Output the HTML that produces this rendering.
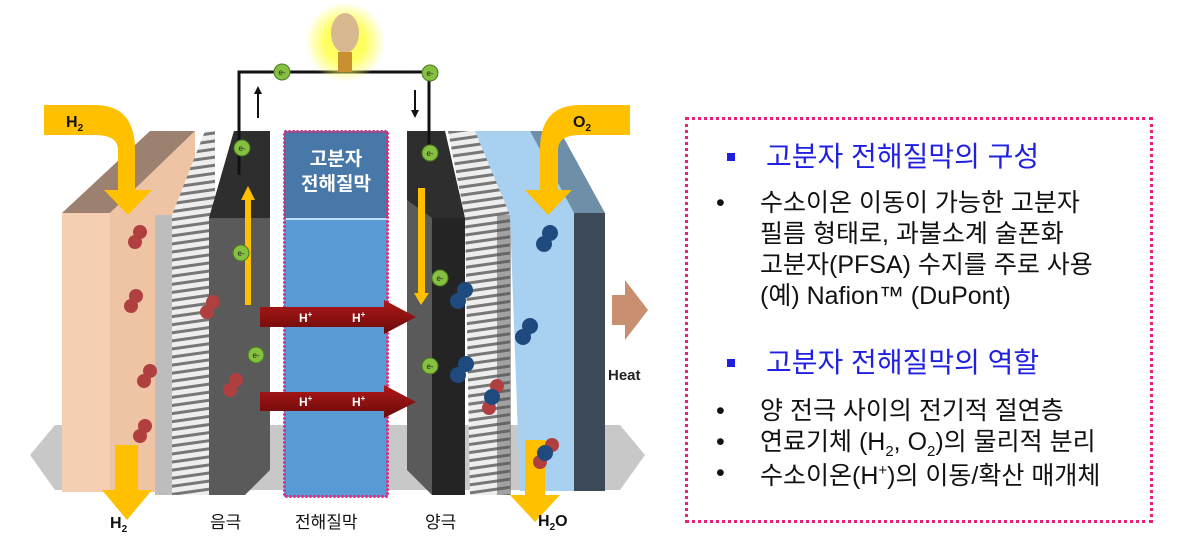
<!DOCTYPE html>
<html><head><meta charset="utf-8"><style>
html,body{margin:0;padding:0;background:#fff;}
body{width:1178px;height:547px;overflow:hidden;position:relative;font-family:"Liberation Sans","Noto Sans CJK KR",sans-serif;}
svg{position:absolute;left:0;top:0;}
.box{position:absolute;left:685px;top:117px;width:468px;height:406px;border:3px dotted #e8207a;box-sizing:border-box;}
.t{position:absolute;white-space:nowrap;font-family:"Liberation Sans","Noto Sans CJK KR",sans-serif;}
.h{color:#2020e0;font-size:28px;line-height:32px;}
.b{color:#111;font-size:25px;line-height:31px;}
.s{font-size:15px;position:relative;top:6px;}
.p{font-size:15px;position:relative;top:-9px;}
</style></head><body>
<svg width="1178" height="547" viewBox="0 0 1178 547">
<defs>
<pattern id="hat" width="6" height="8" patternUnits="userSpaceOnUse" patternTransform="rotate(-8)">
<rect width="6" height="8" fill="#eee"/><rect width="6" height="3" fill="#777"/></pattern>
<radialGradient id="glow"><stop offset="0.5" stop-color="#ffff60"/><stop offset="1" stop-color="#ffff60" stop-opacity="0"/></radialGradient>
<linearGradient id="red" x1="0" y1="0" x2="0" y2="1"><stop offset="0" stop-color="#b01818"/><stop offset="1" stop-color="#6a0a0a"/></linearGradient>
</defs>
<polygon points="30,455 55,425 620,425 645,455 620,490 55,490" fill="#c8c8c8"/>
<polygon points="62,213 150,131 195,131 110,213" fill="#9c8070"/>
<polygon points="110,213 195,131 195,420 155,492 110,492" fill="#efc4a4"/>
<rect x="62" y="213" width="48" height="279" fill="#f5cfb3"/>
<polygon points="155,215 172,215 172,495 155,495" fill="#bdbdbd"/>
<polygon points="172,215 205,131 215,131 215,495 172,495" fill="url(#hat)"/>
<polygon points="209,218 234,131 270,131 270,470 245,495 209,495" fill="#5a5a5a"/>
<polygon points="234,131 270,131 270,218 209,218" fill="#2e2e2e"/>
<rect x="284" y="131" width="104" height="88" fill="#4878a8"/>
<rect x="284" y="219" width="104" height="278" fill="#5b9bd5"/>
<line x1="284" y1="219" x2="388" y2="219" stroke="#bfe0f8" stroke-width="2"/>
<rect x="284.5" y="131.5" width="103" height="365" fill="none" stroke="#e8207a" stroke-width="3" stroke-dasharray="2,2"/>
<polygon points="407,131 445,131 465,218 465,495 432,495 407,470" fill="#5a5a5a"/>
<polygon points="432,218 465,218 465,495 432,495" fill="#242424"/>
<polygon points="407,131 445,131 465,218 432,218 407,200" fill="#2e2e2e"/>
<polygon points="448,131 485,131 510,215 510,495 470,495 465,218" fill="url(#hat)"/>
<rect x="497" y="215" width="14" height="280" fill="#555" opacity="0.5"/>
<polygon points="475,131 530,131 574,213 574,491 520,491 510,215" fill="#a8d0f0"/>
<polygon points="530,131 560,131 605,213 574,213" fill="#6f8fa8"/>
<rect x="574" y="213" width="31" height="278" fill="#3c4a58"/>
<path d="M44,105 H95 Q135,105 135,150 V190 H152 L128,215 L104,190 H118 V150 Q118,135 95,135 H44 Z" fill="#ffc000"/>
<path d="M115,445 H138 V490 H152 L127,520 L102,490 H115 Z" fill="#ffc000"/>
<text x="66" y="127" font-size="16" font-weight="bold" fill="#111">H<tspan font-size="10" dy="4">2</tspan></text>
<text x="110" y="528" font-size="16" font-weight="bold" fill="#111">H<tspan font-size="10" dy="4">2</tspan></text>
<path d="M630,105 H580 Q540,105 540,150 V190 H525 L548,215 L572,190 H558 V150 Q558,135 580,135 H630 Z" fill="#ffc000"/>
<path d="M525,440 H545 V495 H560 L535,522 L510,495 H525 Z" fill="#ffc000"/>
<text x="573" y="127" font-size="16" font-weight="bold" fill="#111">O<tspan font-size="10" dy="4">2</tspan></text>
<text x="538" y="526" font-size="16" font-weight="bold" fill="#111">H<tspan font-size="10" dy="4">2</tspan><tspan dy="-4">O</tspan></text>
<rect x="245" y="200" width="6" height="105" fill="#ffc000"/><polygon points="241,200 255,200 248,186" fill="#ffc000"/>
<rect x="418" y="188" width="7" height="105" fill="#ffc000"/><polygon points="414,293 429,293 421,305" fill="#ffc000"/>
<path d="M260,307 H384 V300 L416,317 L384,334 V327 H260 Z" fill="url(#red)"/>
<path d="M260,392 H384 V385 L416,402 L384,418 V411 H260 Z" fill="url(#red)"/>
<g fill="#fff" font-size="12" font-weight="bold"><text x="299" y="322">H<tspan font-size="8" dy="-5">+</tspan></text><text x="352" y="322">H<tspan font-size="8" dy="-5">+</tspan></text><text x="299" y="406">H<tspan font-size="8" dy="-5">+</tspan></text><text x="352" y="406">H<tspan font-size="8" dy="-5">+</tspan></text></g>
<polyline points="239,175 239,72 429,72 429,160" fill="none" stroke="#111" stroke-width="3"/>
<circle cx="345" cy="42" r="40" fill="url(#glow)"/>
<ellipse cx="345" cy="33" rx="14" ry="20" fill="#d8b890"/>
<rect x="338" y="52" width="14" height="20" fill="#c89030"/>
<line x1="258" y1="118" x2="258" y2="92" stroke="#111" stroke-width="2"/><polygon points="254,94 262,94 258,86" fill="#111"/>
<line x1="415" y1="90" x2="415" y2="112" stroke="#111" stroke-width="2"/><polygon points="411,110 419,110 415,118" fill="#111"/>
<g fill="#86c040" stroke="#4a7a20" stroke-width="1">
<circle cx="282" cy="72" r="8"/><circle cx="430" cy="73" r="8"/><circle cx="242" cy="148" r="8"/><circle cx="430" cy="153" r="8"/><circle cx="241" cy="253" r="8"/><circle cx="440" cy="278" r="8"/><circle cx="256" cy="355" r="8"/><circle cx="430" cy="366" r="8"/></g>
<g font-size="8" fill="#222" text-anchor="middle"><text x="282" y="75">e-</text><text x="430" y="76">e-</text><text x="242" y="151">e-</text><text x="430" y="156">e-</text><text x="241" y="256">e-</text><text x="440" y="281">e-</text><text x="256" y="358">e-</text><text x="430" y="369">e-</text></g>
<g fill="#b04040"><circle cx="140" cy="232" r="7"/><circle cx="135" cy="242" r="7"/><circle cx="136" cy="296" r="7"/><circle cx="131" cy="306" r="7"/><circle cx="150" cy="371" r="7"/><circle cx="144" cy="381" r="7"/><circle cx="145" cy="426" r="7"/><circle cx="140" cy="436" r="7"/><circle cx="213" cy="302" r="7"/><circle cx="207" cy="312" r="7"/><circle cx="236" cy="380" r="7"/><circle cx="230" cy="390" r="7"/><circle cx="497" cy="386" r="7"/><circle cx="489" cy="408" r="7"/><circle cx="552" cy="445" r="7"/><circle cx="540" cy="462" r="7"/></g>
<g fill="#1f4a80"><circle cx="550" cy="233" r="8"/><circle cx="544" cy="244" r="8"/><circle cx="465" cy="290" r="8"/><circle cx="458" cy="301" r="8"/><circle cx="530" cy="326" r="8"/><circle cx="523" cy="337" r="8"/><circle cx="466" cy="364" r="8"/><circle cx="458" cy="375" r="8"/><circle cx="492" cy="397" r="8"/><circle cx="545" cy="453" r="8"/></g>
<polygon points="612,295 625,295 625,280 648,310 625,340 625,325 612,325" fill="#c89070"/>
<text x="608" y="380" font-size="15" font-weight="bold" fill="#222">Heat</text>
<g font-size="17" fill="#111"><text x="210" y="528">음극</text><text x="295" y="528">전해질막</text><text x="425" y="528">양극</text></g>
<g font-size="19" fill="#fff" font-weight="bold" text-anchor="middle"><text x="336" y="165">고분자</text><text x="336" y="190">전해질막</text></g>
</svg>
<div class="box"></div>
<div class="t" style="left:727px;top:153px;width:8px;height:8px;background:#2020e0"></div>
<div class="t h" style="left:766px;top:141px;">고분자 전해질막의 구성</div>
<div class="t b" style="left:716px;top:188px;">•</div>
<div class="t b" style="left:760px;top:188px;">수소이온 이동이 가능한 고분자<br>필름 형태로, 과불소계 술폰화<br>고분자(PFSA) 수지를 주로 사용<br>(예) Nafion™ (DuPont)</div>
<div class="t" style="left:727px;top:359px;width:8px;height:8px;background:#2020e0"></div>
<div class="t h" style="left:766px;top:347px;">고분자 전해질막의 역할</div>
<div class="t b" style="left:716px;top:396px;">•<br>•<br>•</div>
<div class="t b" style="left:760px;top:396px;">양 전극 사이의 전기적 절연층<br>연료기체 (H<span class="s">2</span>, O<span class="s">2</span>)의 물리적 분리<br>수소이온(H<span class="p">+</span>)의 이동/확산 매개체</div>
</body></html>
